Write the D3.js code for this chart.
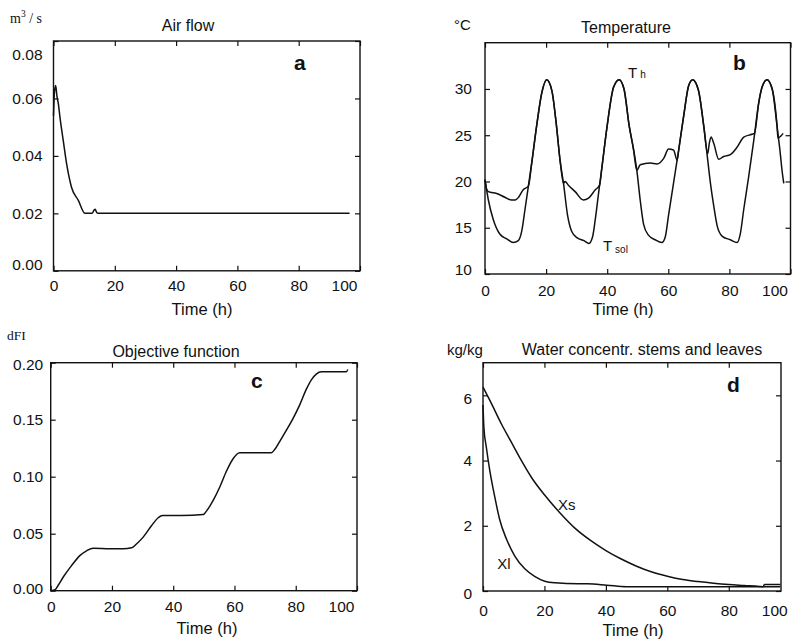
<!DOCTYPE html>
<html>
<head>
<meta charset="UTF-8">
<script src="https://cdn.jsdelivr.net/npm/d3@7"></script>
<style>
  body { margin: 0; background: #fff; }
  svg text { font-family: "Liberation Sans", Arial, sans-serif; fill: #111; }
  .serif { font-family: "Liberation Serif", "Times New Roman", serif; }
</style>
</head>
<body>
<svg id="fig" width="794" height="641"></svg>
<script>
// ---- data ----
const xTickVals = [0, 20, 40, 60, 80, 100];

// a: air flow (m3/s) vs time (h)
const airTicks = [0, 0.02, 0.04, 0.06, 0.08];
const airflow = [[0, 0.054], [0.3, 0.062], [0.7, 0.0645], [1.1, 0.061], [1.6, 0.058], [2.1, 0.0535],
  [3.2, 0.0452], [4.3, 0.0371], [5.9, 0.0290], [8.1, 0.0245], [10.3, 0.0200], [12.6, 0.0200],
  [13.2, 0.0211], [13.6, 0.0214], [14.1, 0.0203], [14.6, 0.0200], [96.6, 0.0200]];

// b: temperatures (deg C)
const tempTicks = [10, 15, 20, 25, 30];
const tSol = [[0, 20.2], [1.1, 18.0], [2.7, 15.9], [4.9, 14.3], [7.1, 13.8], [9.3, 13.4], [10.9, 13.6],
  [12.0, 14.6], [13.1, 17.0], [14.2, 19.5], [15.3, 22.0], [16.9, 26.0], [18.6, 29.6], [20.2, 31.0],
  [21.9, 29.8], [23.3, 26.3], [24.6, 22.2], [25.7, 19.8], [27.0, 16.4], [28.4, 14.6], [30.2, 13.9],
  [32.4, 13.6], [34.0, 13.3], [35.2, 14.0], [36.1, 15.9], [37.2, 18.8], [38.3, 21.6], [39.9, 25.8],
  [42.1, 30.2], [43.9, 31.0], [45.5, 30.0], [47.2, 26.0], [48.6, 23.5], [49.7, 21.2], [50.8, 18.0],
  [51.9, 15.4], [53.5, 14.2], [55.7, 13.7], [57.9, 13.4], [59.0, 14.0], [60.1, 16.4], [61.7, 19.8],
  [63.4, 23.4], [65.0, 27.0], [66.7, 30.4], [68.0, 31.0], [69.9, 29.8], [71.6, 26.0], [72.7, 22.9],
  [73.8, 19.8], [74.9, 17.3], [76.0, 15.2], [77.6, 14.1], [80.3, 13.7], [82.5, 13.4], [83.6, 14.4],
  [84.7, 17.0], [86.3, 20.5], [88.0, 24.5], [89.6, 28.5], [90.7, 30.2], [92.3, 31.0], [94.0, 30.0],
  [95.6, 26.0], [96.5, 23.5], [97.3, 21.0], [97.8, 19.8]];
const tH = [[0, 20.2], [0.5, 19.2], [1.1, 18.9], [3.8, 18.7], [6.5, 18.3], [8.7, 18.0], [9.9, 18.0],
  [11.0, 18.3], [12.5, 19.1], [14.2, 19.5], [15.3, 22.0], [16.9, 26.0], [18.6, 29.6], [20.2, 31.0],
  [21.9, 29.8], [23.3, 26.3], [24.6, 22.2], [25.7, 19.8], [26.2, 20.0], [27.3, 19.6], [29.5, 18.9],
  [32.2, 18.0], [33.9, 18.2], [36.1, 19.1], [37.5, 19.6], [38.3, 21.6], [39.9, 25.8], [42.1, 30.2],
  [43.9, 31.0], [45.5, 30.0], [47.2, 26.0], [48.6, 23.5], [49.7, 21.2], [50.8, 21.8], [54.1, 22.0],
  [56.3, 21.9], [58.5, 22.5], [60.1, 23.5], [61.7, 23.4], [62.9, 22.3], [63.4, 23.4], [65.0, 27.0],
  [66.7, 30.4], [68.0, 31.0], [69.9, 29.8], [71.6, 26.0], [72.9, 23.0], [73.4, 24.1], [74.0, 24.8],
  [74.9, 24.1], [76.5, 22.4], [78.1, 22.7], [80.3, 22.9], [82.5, 23.7], [84.7, 24.8], [87.4, 25.1],
  [88.2, 25.2], [89.6, 28.5], [90.7, 30.2], [92.3, 31.0], [94.0, 30.0], [95.6, 26.0], [95.9, 24.7],
  [96.8, 24.9], [97.6, 25.2]];

// c: objective function dFI
const objTicks = [0, 0.05, 0.10, 0.15, 0.20];
const dFI = [[0, 0], [1.5, 0.001], [2.5, 0.005], [4.1, 0.012], [6.8, 0.022], [9.6, 0.031], [11.7, 0.035],
  [13.9, 0.0373], [19.3, 0.0368], [23.7, 0.0368], [26.4, 0.0376], [28.0, 0.041], [30.2, 0.047],
  [32.9, 0.057], [35.1, 0.064], [36.5, 0.066], [42.7, 0.066], [49.8, 0.0668], [50.9, 0.070],
  [53.0, 0.079], [55.2, 0.091], [57.4, 0.105], [59.6, 0.116], [61.7, 0.121], [72.0, 0.121],
  [73.2, 0.124], [74.8, 0.131], [77.0, 0.141], [79.1, 0.151], [81.3, 0.163], [83.5, 0.177],
  [85.1, 0.185], [86.7, 0.190], [88.4, 0.192], [96.5, 0.192], [97.0, 0.194]];

// d: water concentration stems (Xs) and leaves (Xl), kg/kg
const waterTicks = [0, 2, 4, 6];
const xS = [[0, 6.25], [3, 5.7], [6, 5.12], [9, 4.6], [12, 4.08], [16, 3.45], [20, 2.95], [25, 2.4],
  [30, 1.92], [35, 1.55], [40, 1.24], [45, 0.98], [50, 0.76], [55, 0.58], [60, 0.45], [65, 0.35],
  [70, 0.29], [75, 0.24], [80, 0.20], [85, 0.17], [90, 0.14], [91.2, 0.13], [91.6, 0.20], [96.8, 0.20]];
const xL = [[0, 5.7], [0.3, 5.0], [1.1, 4.4], [2.2, 3.7], [3.8, 2.9], [5.4, 2.2], [7.6, 1.6], [10.3, 1.08],
  [13.6, 0.68], [16.8, 0.45], [20.1, 0.30], [23.4, 0.25], [31, 0.22], [34, 0.22], [40.3, 0.18],
  [46.8, 0.13], [96.8, 0.13]];

// ---- drawing ----
const svg = d3.select("#fig");
const tickFont = 15.5;

const panels = [
  { left: 53.5, top: 41, right: 360, bottom: 270.8, xMax: 100, yDomain: [0, 0.08], yTicks: airTicks,
    yFmt: d3.format(".2f"), yNudge: { "0.08": 14, "0": -6 }, series: [airflow],
    xLabPad: 20, yLabGap: 11, letter: "a", letterX: 294, letterY: 70,
    title: "Air flow", titleX: 188, titleY: 31, timeX: 202, timeY: 315,
    notes: [] },
  { left: 485, top: 42.7, right: 790.5, bottom: 274, xMax: 100, yDomain: [10, 35], yTicks: tempTicks,
    yFmt: d3.format("d"), yNudge: { "10": -4 }, series: [tSol, tH],
    xLabPad: 22, yLabGap: 13, letter: "b", letterX: 733, letterY: 70,
    title: "Temperature", titleX: 626, titleY: 33, timeX: 623, timeY: 315,
    notes: [{ main: "T", sub: "h", t: 46.8, v: 31.2, subDy: 0 }, { main: "T", sub: "sol", t: 38.6, v: 12.5, subDy: 2 }] },
  { left: 50.7, top: 362.7, right: 357, bottom: 590.7, xMax: 100, yDomain: [0, 0.2], yTicks: objTicks,
    yFmt: d3.format(".2f"), yNudge: { "0.2": 2, "0": -2 }, series: [dFI],
    xLabPad: 21, yLabGap: 7.5, letter: "c", letterX: 251, letterY: 388,
    title: "Objective function", titleX: 176, titleY: 357, timeX: 207, timeY: 634,
    notes: [] },
  { left: 483, top: 362.7, right: 781, bottom: 591, xMax: 97, yDomain: [0, 7], yTicks: waterTicks,
    yFmt: d3.format("d"), yNudge: { "6": 3, "0": 3 }, series: [xS, xL],
    xLabPad: 25, yLabGap: 11, letter: "d", letterX: 727, letterY: 392,
    title: "Water concentr. stems and leaves", titleX: 642, titleY: 355, timeX: 633, timeY: 636,
    notes: [{ main: "Xs", sub: "", t: 24.4, v: 2.48 }, { main: "Xl", sub: "", t: 4.6, v: 0.67 }] }
];

function styleAxis(sel) {
  sel.attr("font-size", tickFont).attr("font-family", null).attr("color", "#111");
  sel.select(".domain").remove();
  sel.selectAll(".tick line").attr("stroke-width", 1.2);
}

function drawPanel(p) {
  const g = svg.append("g");
  const x = d3.scaleLinear().domain([0, p.xMax]).range([p.left, p.right]);
  const y = d3.scaleLinear().domain(p.yDomain).range([p.bottom, p.top]);
  const inside = xTickVals.filter(v => v <= p.xMax);

  // bottom axis with labels, ticks pointing inward
  const bx = g.append("g").attr("transform", `translate(0,${p.bottom})`)
    .call(d3.axisBottom(x).tickValues(xTickVals).tickSizeInner(-5).tickSizeOuter(0)
      .tickPadding(p.xLabPad - 0.71 * tickFont));
  styleAxis(bx);
  bx.selectAll(".tick").filter(d => d > p.xMax).select("line").remove();
  bx.selectAll(".tick").filter(d => d === 100).select("text").attr("dx", -16);

  const tx = g.append("g").attr("transform", `translate(0,${p.top})`)
    .call(d3.axisTop(x).tickValues(inside).tickSizeInner(-5).tickSizeOuter(0).tickFormat(""));
  styleAxis(tx);

  const ly = g.append("g").attr("transform", `translate(${p.left},0)`)
    .call(d3.axisLeft(y).tickValues(p.yTicks).tickSizeInner(-5).tickSizeOuter(0)
      .tickPadding(p.yLabGap).tickFormat(p.yFmt));
  styleAxis(ly);
  ly.selectAll(".tick text").attr("transform", d => {
    const n = p.yNudge[String(+d.toFixed(4))];
    return n ? `translate(0,${n})` : null;
  });

  const ry = g.append("g").attr("transform", `translate(${p.right},0)`)
    .call(d3.axisRight(y).tickValues(p.yTicks).tickSizeInner(-5).tickSizeOuter(0).tickFormat(""));
  styleAxis(ry);

  // frame
  g.append("rect")
    .attr("x", p.left).attr("y", p.top)
    .attr("width", p.right - p.left).attr("height", p.bottom - p.top)
    .attr("fill", "none").attr("stroke", "#111").attr("stroke-width", 1.4);

  const line = d3.line().x(d => x(d[0])).y(d => y(d[1])).curve(d3.curveMonotoneX);
  p.series.forEach(s => {
    g.append("path").datum(s).attr("d", line)
      .attr("fill", "none").attr("stroke", "#111").attr("stroke-width", 1.5)
      .attr("stroke-linejoin", "round");
  });

  // curve labels
  p.notes.forEach(n => {
    const t = g.append("text").attr("x", x(n.t)).attr("y", y(n.v)).attr("font-size", 15).text(n.main);
    if (n.sub) t.append("tspan").attr("dx", 3).attr("dy", n.subDy).attr("font-size", 10).text(n.sub);
  });

  g.append("text").attr("x", p.letterX).attr("y", p.letterY)
    .attr("font-size", 21).attr("font-weight", "bold").text(p.letter);
  g.append("text").attr("x", p.titleX).attr("y", p.titleY)
    .attr("text-anchor", "middle").attr("font-size", 16).text(p.title);
  g.append("text").attr("x", p.timeX).attr("y", p.timeY)
    .attr("text-anchor", "middle").attr("font-size", 16.5).text("Time (h)");
}

panels.forEach(drawPanel);

// unit labels
const u1 = svg.append("text").attr("class", "serif").attr("x", 10).attr("y", 23).attr("font-size", 14);
u1.append("tspan").text("m");
u1.append("tspan").attr("font-size", 9.5).attr("dy", -6).text("3");
u1.append("tspan").attr("dy", 6).text(" / s");

svg.append("text").attr("x", 454).attr("y", 30).attr("font-size", 15).text("°C");
svg.append("text").attr("class", "serif").attr("x", 7).attr("y", 340).attr("font-size", 13.5).text("dFI");
svg.append("text").attr("x", 447).attr("y", 355).attr("font-size", 15).text("kg/kg");
</script>
</body>
</html>
